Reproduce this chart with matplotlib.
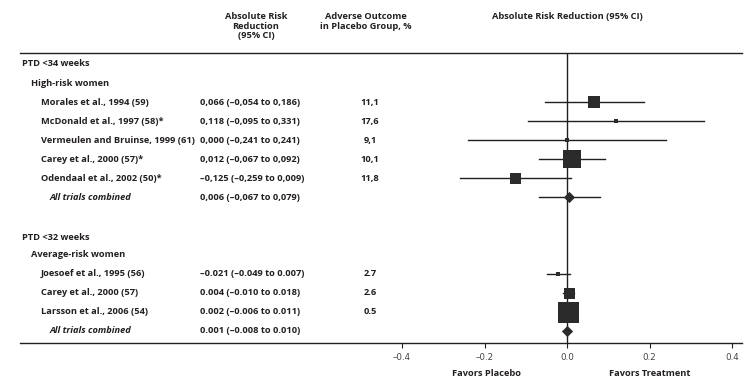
import matplotlib
matplotlib.use("Agg")
import matplotlib.pyplot as plt
from matplotlib.transforms import blended_transform_factory

plt.rcParams['font.family'] = ['Open Sans', 'DejaVu Sans']

# ---- data ----
row_labels = ["PTD <34 weeks", "High-risk women",
              "Morales et al., 1994 (59)", "McDonald et al., 1997 (58)*",
              "Vermeulen and Bruinse, 1999 (61)", "Carey et al., 2000 (57)*",
              "Odendaal et al., 2002 (50)*", "All trials combined",
              "PTD <32 weeks", "Average-risk women",
              "Joesoef et al., 1995 (56)", "Carey et al., 2000 (57)",
              "Larsson et al., 2006 (54)", "All trials combined"]
row_kind = ["section", "group", "study", "study", "study", "study", "study", "total",
            "section", "group", "study", "study", "study", "total"]
row_pos = [0, 1, 2, 3, 4, 5, 6, 7, 9.1, 10, 11, 12, 13, 14]

arr = [None, None, 0.066, 0.118, 0.000, 0.012, -0.125, 0.006,
       None, None, -0.021, 0.004, 0.002, 0.001]
ci_low = [None, None, -0.054, -0.095, -0.241, -0.067, -0.259, -0.067,
          None, None, -0.049, -0.010, -0.006, -0.008]
ci_high = [None, None, 0.186, 0.331, 0.241, 0.092, 0.009, 0.079,
           None, None, 0.007, 0.018, 0.011, 0.010]
ci_text = ["", "", "0,066 (\u20130,054 to 0,186)", "0,118 (\u20130,095 to 0,331)",
           "0,000 (\u20130,241 to 0,241)", "0,012 (\u20130,067 to 0,092)",
           "\u20130,125 (\u20130,259 to 0,009)", "0,006 (\u20130,067 to 0,079)",
           "", "", "\u20130.021 (\u20130.049 to 0.007)", "0.004 (\u20130.010 to 0.018)",
           "0.002 (\u20130.006 to 0.011)", "0.001 (\u20130.008 to 0.010)"]
placebo_text = ["", "", "11,1", "17,6", "9,1", "10,1", "11,8", "",
                "", "", "2.7", "2.6", "0.5", ""]
# marker side in pixels (study weight)
marker_px = [0, 0, 12, 5, 4, 18, 11, 11, 0, 0, 4, 11, 21, 11]

xticks = [-0.4, -0.2, 0.0, 0.2, 0.4]
xticklabels = ["\u20130.4", "\u20130.2", "0.0", "0.2", "0.4"]

# ---- figure ----
W, H = 753, 390
fig = plt.figure(figsize=(W / 100, H / 100), dpi=100)
fig.patch.set_facecolor("white")

ax_l, ax_r, ax_t, ax_b = 20, 742, 53, 343
ax = fig.add_axes([ax_l / W, 1 - ax_b / H, (ax_r - ax_l) / W, (ax_b - ax_t) / H])
zero_px, scale = 567.0, 412.5
ax.set_xlim((ax_l - zero_px) / scale, (ax_r - zero_px) / scale)
rs = 19.07
ax.set_ylim((ax_b - 64) / rs, (ax_t - 64) / rs)

ink = "#231f20"
mk = "#2b2b2b"
for s in ["left", "right", "top"]:
    ax.spines[s].set_visible(False)
ax.spines["bottom"].set_color(ink)
ax.spines["bottom"].set_linewidth(1.0)
ax.set_yticks([])
ax.set_xticks(xticks)
ax.set_xticklabels(xticklabels, fontsize=6.3, color="#444444", fontfamily="DejaVu Sans")
ax.tick_params(axis="x", direction="out", length=3.5, width=0.8, color=ink, pad=4)
ax.axhline(ax.get_ylim()[1], color=ink, lw=1.0, clip_on=False)
ax.axvline(0, color=ink, lw=1.0)

for i in range(len(row_labels)):
    if arr[i] is None:
        continue
    y = row_pos[i]
    ax.plot([ci_low[i], ci_high[i]], [y, y], color=ink, lw=1.0, zorder=2)
    if row_kind[i] == "total":
        ax.scatter([arr[i]], [y], marker="D", s=(marker_px[i] * 0.72 * 0.72) ** 2,
                   color=mk, zorder=3, linewidths=0)
    else:
        ax.scatter([arr[i]], [y], marker="s", s=(marker_px[i] * 0.72) ** 2,
                   color=mk, zorder=3, linewidths=0)

# ---- table text ----
tr = blended_transform_factory(fig.transFigure, ax.transData)
indent = {"section": 22, "group": 31, "study": 41, "total": 50}
fs = 6.7
wt = "bold"
for i, lab in enumerate(row_labels):
    y = row_pos[i]
    kind = row_kind[i]
    style = "italic" if kind == "total" else "normal"
    ax.text(indent[kind] / W, y, lab, transform=tr, ha="left", va="center",
            fontsize=fs, fontweight=wt, fontstyle=style, color=ink)
    if ci_text[i]:
        ax.text(200 / W, y, ci_text[i], transform=tr, ha="left", va="center",
                fontsize=fs, fontweight=wt, color=ink)
    if placebo_text[i]:
        ax.text(370 / W, y, placebo_text[i], transform=tr, ha="center", va="center",
                fontsize=fs, fontweight=wt, color=ink)

# ---- headers ----
fig.text(256 / W, 1 - 12 / H, "Absolute Risk\nReduction\n(95% CI)", ha="center", va="top",
         fontsize=fs, fontweight="bold", color=ink, linespacing=1.1)
fig.text(366 / W, 1 - 12 / H, "Adverse Outcome\nin Placebo Group, %", ha="center", va="top",
         fontsize=fs, fontweight="bold", color=ink, linespacing=1.1)
fig.text(567 / W, 1 - 12 / H, "Absolute Risk Reduction (95% CI)", ha="center", va="top",
         fontsize=fs, fontweight="bold", color=ink)

fig.text(487 / W, 1 - 373 / H, "Favors Placebo", ha="center", va="center",
         fontsize=fs, fontweight="bold", color=ink)
fig.text(650 / W, 1 - 373 / H, "Favors Treatment", ha="center", va="center",
         fontsize=fs, fontweight="bold", color=ink)

fig.savefig("out.png", dpi=100, facecolor="white")
